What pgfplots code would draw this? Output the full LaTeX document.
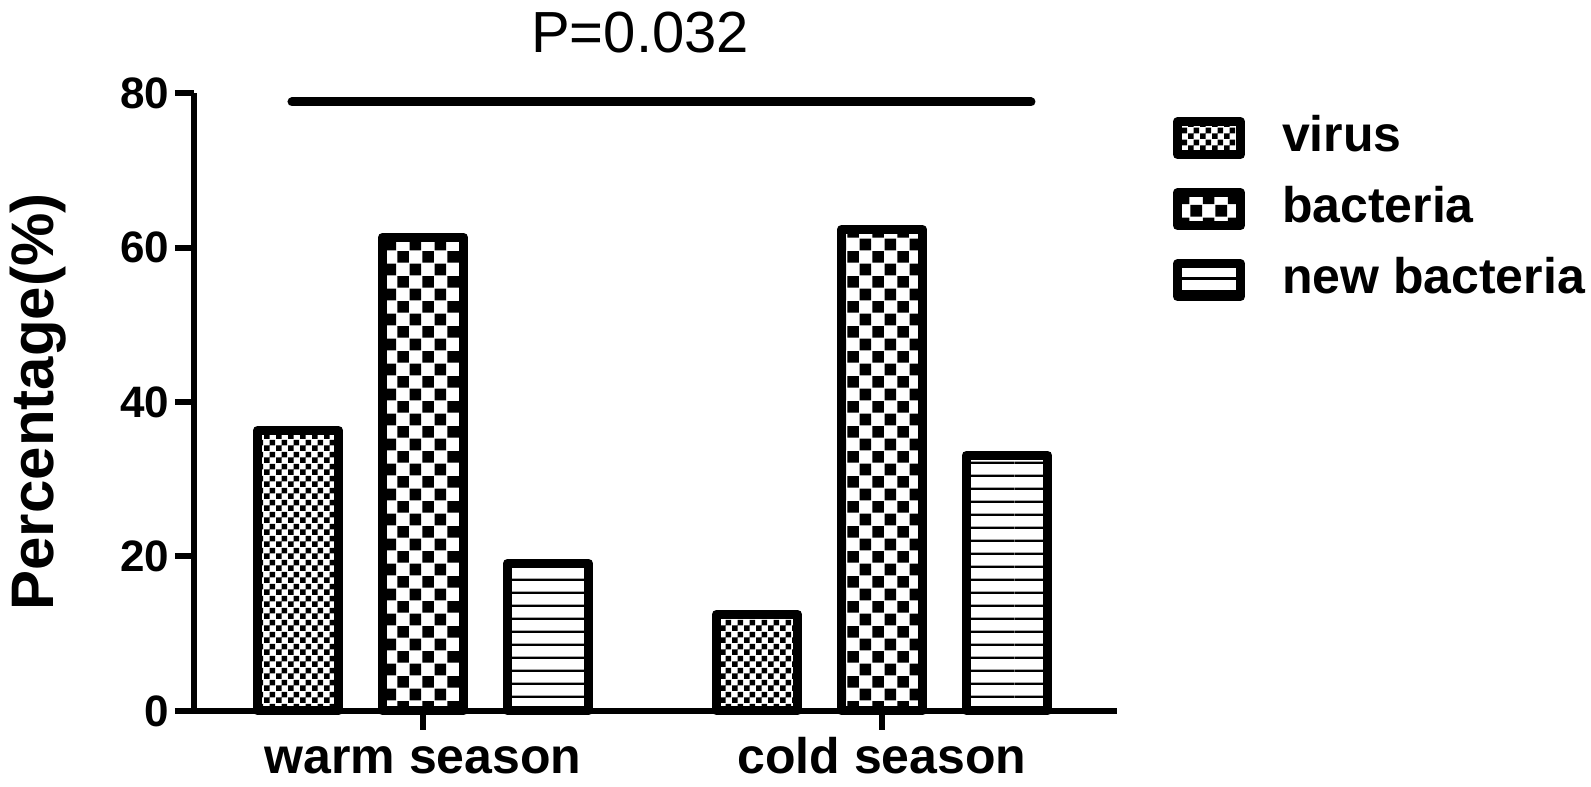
\documentclass[border=0pt]{standalone}
\usepackage{fontspec}
\setmainfont{Liberation Sans}
\usepackage{pgfplots}
\pgfplotsset{compat=1.18}
\usetikzlibrary{patterns}

\pgfdeclarepatternformonly{finecheck}{\pgfpointorigin}{\pgfpoint{3pt}{3pt}}{\pgfpoint{3pt}{3pt}}{%
 \pgfpathrectangle{\pgfpointorigin}{\pgfpoint{1.5pt}{1.5pt}}%
 \pgfpathrectangle{\pgfpoint{1.5pt}{1.5pt}}{\pgfpoint{1.5pt}{1.5pt}}%
 \pgfusepath{fill}}
\pgfdeclarepatternformonly{coarsecheck}{\pgfpointorigin}{\pgfpoint{6.2pt}{6.2pt}}{\pgfpoint{6.2pt}{6.2pt}}{%
 \pgfpathrectangle{\pgfpoint{0.1pt}{0.1pt}}{\pgfpoint{2.9pt}{2.9pt}}%
 \pgfpathrectangle{\pgfpoint{3.2pt}{3.2pt}}{\pgfpoint{2.9pt}{2.9pt}}%
 \pgfusepath{fill}}
\pgfdeclarepatternformonly{hlinesp}{\pgfpointorigin}{\pgfpoint{31.7pt}{3.17pt}}{\pgfpoint{31.7pt}{3.17pt}}{%
 \pgfpathrectangle{\pgfpoint{0pt}{0pt}}{\pgfpoint{31.7pt}{0.6pt}}%
 \pgfusepath{fill}}

\pgfplotstableread{
x  virus bacteria newbac
1  36.3  61.3     19.1
2  12.5  62.3     33.1
}\datatable

\begin{document}
\begin{tikzpicture}
\path[use as bounding box] (-48.5pt,-19pt) rectangle (349.25pt,177.75pt);
\begin{axis}[
  at={(0pt,0pt)}, anchor=south west,
  width=230.75pt, height=154.5pt, scale only axis,
  xmin=0.5011, xmax=2.512, ymin=0, ymax=80,
  clip=false,
  axis x line*=bottom, axis y line*=left,
  axis line style={line width=1.5pt, black},
  tick align=outside,
  major tick length=4.75pt,
  tick style={line width=1.5pt, black},
  xtick={1,2}, xticklabels={warm season, cold season},
  ytick={0,20,40,60,80},
  minor tick num=0,
  /pgf/number format/assume math mode=true,
  yticklabel style={font=\fontsize{11}{13}\selectfont\bfseries, anchor=east, inner sep=0pt, xshift=-1.25pt},
  xticklabel style={font=\fontsize{12.5}{15}\selectfont\bfseries, anchor=base, inner sep=0pt, yshift=-11pt},
  every axis y label/.style={at={(axis description cs:-0.15276,0.5)}, rotate=90, anchor=base},
  ylabel={\fontsize{15}{18}\selectfont\bfseries Percentage(\%)},
  ybar, bar width=20.4pt,
  every axis plot/.append style={draw=black, line width=2.25pt, line join=round},
  legend image code/.code={\draw[#1, line width=2.25pt, line join=round] (0pt,-0.9pt) rectangle (15.75pt,7.35pt);},
  legend cell align=left,
  legend style={at={(1.0607,0.9676)}, anchor=north west, draw=none, fill=none,
    inner sep=0pt, outer sep=0pt, row sep=5.25pt,
    font=\fontsize{12.5}{15}\selectfont\bfseries,
    nodes={inner sep=0pt, text height=9.5pt, text depth=3pt, anchor=base west},
    /tikz/every odd column/.append style={column sep=9.25pt}},
]
\addplot[bar shift=-31.25pt, pattern=finecheck] table[x=x, y=virus] {\datatable};
\addplot[bar shift=0pt, pattern=coarsecheck] table[x=x, y=bacteria] {\datatable};
\addplot[bar shift=31.25pt, pattern=hlinesp] table[x=x, y=newbac] {\datatable};
\legend{virus, bacteria, new bacteria}
\draw[line width=2.25pt, line cap=round] (axis cs:0.7146,78.84) -- (axis cs:2.3246,78.84);
\node[anchor=base, inner sep=0pt, font=\fontsize{14.5}{17}\selectfont] at (axis cs:1.473,85.18) {P=0.032};
\end{axis}
\end{tikzpicture}
\end{document}
